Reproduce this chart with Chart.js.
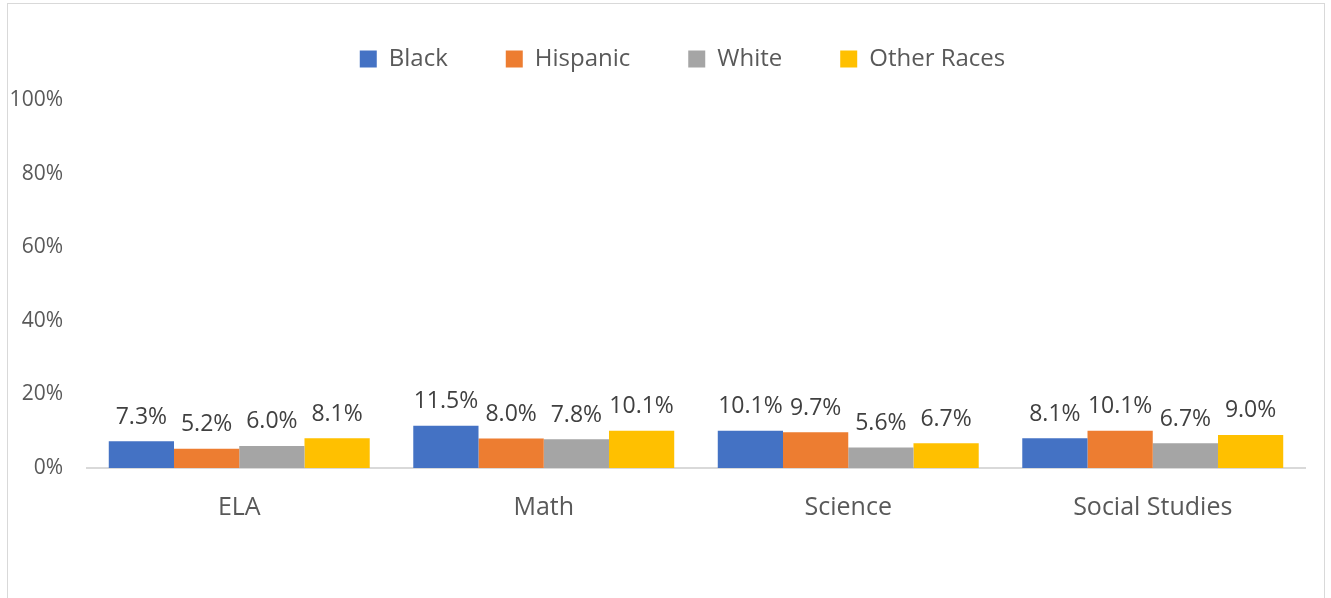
<!DOCTYPE html>
<html>
<head>
<meta charset="utf-8">
<script src="https://cdn.jsdelivr.net/npm/chart.js@4/dist/chart.umd.min.js"></script>
<style>
    html, body { margin: 0; padding: 0; background: #fff; overflow: hidden; }
    #frame { position: absolute; left: 7px; top: 3px; width: 1318px; height: 700px; border: 1px solid #d9d9d9; box-sizing: border-box; }
    #wrap { position: absolute; left: 0; top: 0; width: 1331px; height: 598px; }
</style>
</head>
<body>
<div id="frame"></div>
<div id="wrap"><canvas id="chart"></canvas></div>
<script>
const categories = ['ELA', 'Math', 'Science', 'Social Studies'];
const black = [7.3, 11.5, 10.1, 8.1];
const hispanic = [5.2, 8.0, 9.7, 10.1];
const white = [6.0, 7.8, 5.6, 6.7];
const otherRaces = [8.1, 10.1, 6.7, 9.0];
const yTicks = [0, 20, 40, 60, 80, 100];

const FONT = "'Open Sans', 'Liberation Sans', sans-serif";

// labels above each bar, like Excel's "outside end"
const barLabels = {
    id: 'barLabels',
    afterDatasetsDraw(chart) {
        const ctx = chart.ctx;
        ctx.save();
        ctx.font = '23px ' + FONT;
        ctx.fillStyle = '#404040';
        ctx.textAlign = 'center';
        ctx.textBaseline = 'middle';
        chart.data.datasets.forEach((ds, i) => {
            chart.getDatasetMeta(i).data.forEach((bar, j) => {
                ctx.fillText(ds.data[j].toFixed(1) + '%', bar.x, bar.y - 24);
            });
        });
        ctx.restore();
    }
};

// fixed legend height so the plot starts where it does in the picture,
// then nudge the legend to where it sits in the original
const legendPlace = {
    id: 'legendPlace',
    beforeInit(chart) {
        const orig = chart.legend.fit;
        chart.legend.fit = function () {
            orig.call(this);
            this.height = 100;
        };
    },
    afterLayout(chart) {
        const lg = chart.legend;
        lg.left += 30;
        lg.right += 30;
        lg.top -= 11;
        lg.bottom -= 11;
    }
};

new Chart(document.getElementById('chart'), {
    type: 'bar',
    data: {
        labels: categories,
        datasets: [
            { label: 'Black', data: black, backgroundColor: '#4472C4' },
            { label: 'Hispanic', data: hispanic, backgroundColor: '#ED7D31' },
            { label: 'White', data: white, backgroundColor: '#A5A5A5' },
            { label: 'Other Races', data: otherRaces, backgroundColor: '#FFC000' }
        ]
    },
    options: {
        responsive: true,
        maintainAspectRatio: false,
        animation: false,
        layout: { padding: { left: 0, right: 26, top: 0, bottom: 0 } },
        datasets: { bar: { categoryPercentage: 0.857, barPercentage: 1.0 } },
        plugins: {
            tooltip: { enabled: false },
            legend: {
                position: 'top',
                labels: {
                    boxWidth: 17,
                    boxHeight: 17,
                    padding: 58,
                    color: '#595959',
                    font: { family: FONT, size: 24 }
                }
            }
        },
        scales: {
            x: {
                grid: { display: false },
                border: { display: true, color: '#d9d9d9', width: 2 },
                ticks: { color: '#595959', padding: 17, font: { family: FONT, size: 25 } },
                afterFit(scale) { scale.height = 130; }
            },
            y: {
                min: 0,
                max: 100,
                grid: { display: false },
                border: { display: false },
                afterBuildTicks(scale) { scale.ticks = yTicks.map(v => ({ value: v })); },
                ticks: {
                    color: '#595959',
                    padding: 16,
                    font: { family: FONT, size: 21 },
                    callback: v => v + '%'
                },
                afterFit(scale) { scale.width = 87; }
            }
        }
    },
    plugins: [barLabels, legendPlace]
});
</script>
</body>
</html>
